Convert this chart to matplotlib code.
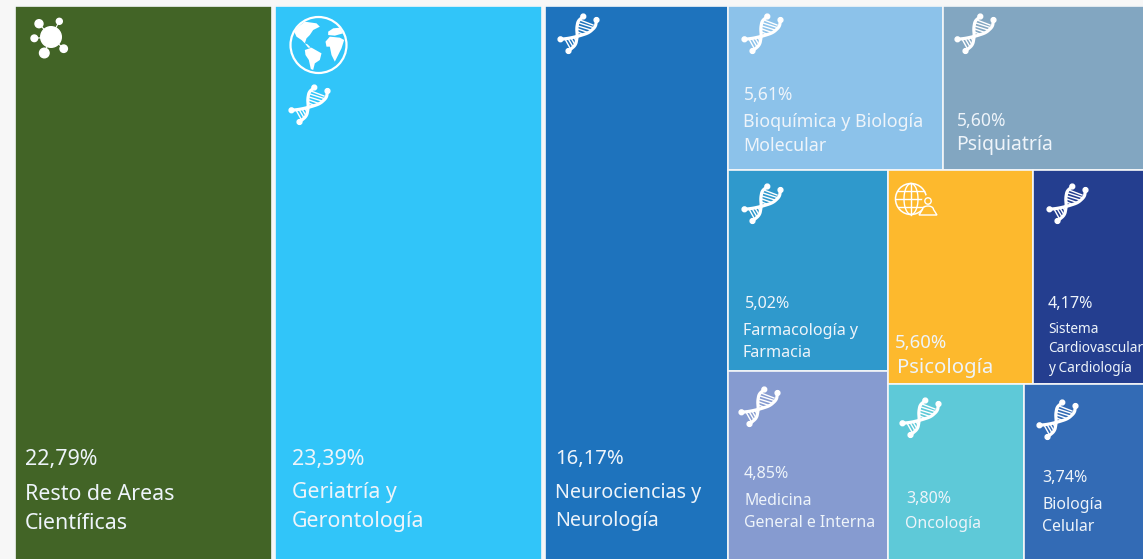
import numpy as np
import matplotlib
matplotlib.use('Agg')
import matplotlib.pyplot as plt
from matplotlib.patches import Rectangle, Circle, Polygon

plt.rcParams['font.family'] = ['Noto Sans', 'DejaVu Sans']

# tile areas (share of the whole treemap)
area_resto = 22.71
area_geriatria = 23.58
area_neuro = 15.98
area_bioquimica = 5.55
area_psiquiatria = 5.60
area_farmacologia = 5.06
area_medicina = 4.78
area_psicologia = 4.88
area_sistema = 4.28
area_oncologia = 3.79
area_biologia = 3.79

# labels printed on the tiles
pct_labels = ['22,79%', '23,39%', '16,17%', '5,61%', '5,60%', '5,02%',
              '4,85%', '5,60%', '4,17%', '3,80%', '3,74%']
names = ['Resto de Areas\nCientíficas', 'Geriatría y\nGerontología',
         'Neurociencias y\nNeurología', 'Bioquímica y Biología\nMolecular',
         'Psiquiatría', 'Farmacología y\nFarmacia', 'Medicina\nGeneral e Interna',
         'Psicología', 'Sistema\nCardiovascular\ny Cardiología', 'Oncología',
         'Biología\nCelular']

colors = ['#426426', '#31c5f9', '#1e73bd', '#8cc2ea', '#82a6c1', '#2f99cc',
          '#869bd0', '#fdb92d', '#243e8f', '#5ec9d8', '#336bb5']

# nested layout: 'h' lays children side by side, 'v' stacks them, ints are tiles
tile_areas = [area_resto, area_geriatria, area_neuro, area_bioquimica, area_psiquiatria,
              area_farmacologia, area_medicina, area_psicologia, area_sistema,
              area_oncologia, area_biologia]
tree = ('h', [0, 1, 2,
              ('v', [('h', [3, 4]),
                     ('h', [('v', [5, 6]),
                            ('v', [('h', [7, 8]), ('h', [9, 10])])])])])


def total(node):
    if isinstance(node, int):
        return tile_areas[node]
    return sum(total(c) for c in node[1])


def layout(node, x, y, w, h, out):
    if isinstance(node, int):
        out[node] = (x, y, w, h)
        return
    t = total(node)
    for c in node[1]:
        share = total(c) / t
        if node[0] == 'h':
            layout(c, x, y, w * share, h, out)
            x += w * share
        else:
            layout(c, x, y, w, h * share, out)
            y += h * share


def smooth(pts):
    pts = np.array(pts, float)
    t = np.linspace(0, 1, len(pts))
    tt = np.linspace(0, 1, 60)
    xs = np.interp(tt, t, pts[:, 0])
    ys = np.interp(tt, t, pts[:, 1])
    k = np.ones(9) / 9
    return (np.convolve(np.pad(xs, 4, mode='edge'), k, mode='valid'),
            np.convolve(np.pad(ys, 4, mode='edge'), k, mode='valid'))


def dna(ax, cx, cy):
    # double helix icon, coordinates relative to its centre
    s1 = [(5.3, -17.5), (0, -13), (-1.3, -5.7), (-0.7, 2), (-2.3, 11), (-9.5, 17)]
    s2 = [(18.5, -14), (17.5, -7.3), (11, -1.3), (1, 2), (-9, 4.3), (-17.5, 5.3)]
    for s in (s1, s2):
        xs, ys = smooth(s)
        ax.plot(cx + xs, cy + ys, color='white', lw=2.3, solid_capstyle='round', zorder=4)
        for p in (s[0], s[-1]):
            ax.add_patch(Circle((cx + p[0], cy + p[1]), 2.4, color='white', zorder=4))
    rungs = [((2, -14), (15, -9)), ((1, -11), (15, -6.5)), ((0, -8), (13, -4)), ((0, -5), (10, -1.5)),
             ((-0.5, -2), (6, 0.5)), ((-13, 5), (-8, 14)), ((-10, 4.5), (-5.5, 12)), ((-7, 4), (-3.5, 10)), ((-4, 3.5), (-2, 7))]
    for a, b in rungs:
        ax.plot([cx + a[0], cx + b[0]], [cy + a[1], cy + b[1]], color='white', lw=1.0, zorder=4)


def molecule(ax, cx, cy):
    ax.add_patch(Circle((cx, cy), 10.3, color='white', zorder=4))
    for dx, dy, r in [(-12, -13.3, 4), (8.3, -15.7, 3), (-16.7, 1.3, 3.3), (-6.7, 16, 4.8), (12.7, 11.7, 3.7)]:
        ax.plot([cx, cx + dx], [cy, cy + dy], color='white', lw=0.8, zorder=4)
        ax.add_patch(Circle((cx + dx, cy + dy), r, color='white', zorder=4))


def globe(ax, cx, cy, r):
    ax.add_patch(Circle((cx, cy), r, fc='none', ec='white', lw=1.6, zorder=4))
    # continent outlines, in units of a 198 px sketch centred on (101, 100)
    conts = [[(40, 45), (60, 30), (95, 35), (105, 45), (85, 55), (75, 70), (65, 80), (60, 95), (50, 85), (35, 75), (28, 60)],
             [(60, 95), (68, 98), (78, 108), (70, 108)],
             [(60, 115), (80, 108), (110, 125), (105, 145), (90, 155), (85, 175), (78, 172), (72, 145), (62, 130)],
             [(122, 90), (135, 75), (165, 78), (178, 85), (170, 110), (160, 130), (150, 150), (140, 130), (135, 105), (125, 105)],
             [(130, 60), (145, 50), (165, 48), (175, 65), (150, 72), (130, 70)]]
    for c in conts:
        ax.add_patch(Polygon([(cx + (a - 101) / 3, cy + (b - 100) / 3) for a, b in c],
                             closed=True, fc='white', ec='none', zorder=4))


def globe_person(ax, cx, cy):
    r = 15.5
    bg = colors[7]
    t = np.linspace(-np.pi / 2, np.pi / 2, 30)
    ax.add_patch(Circle((cx, cy), r, fc='none', ec='white', lw=1.1, zorder=4))
    ax.plot(cx + 7 * np.cos(t), cy + r * np.sin(t), color='white', lw=1, zorder=4)
    ax.plot(cx - 7 * np.cos(t), cy + r * np.sin(t), color='white', lw=1, zorder=4)
    ax.plot([cx, cx], [cy - r, cy + r], color='white', lw=1, zorder=4)
    ax.plot([cx - r, cx + r], [cy, cy], color='white', lw=1, zorder=4)
    for dy in (-8, 8):
        hw = np.sqrt(r * r - dy * dy)
        ax.plot([cx - hw, cx + hw], [cy + dy, cy + dy], color='white', lw=1, zorder=4)
    # person in front of the globe
    ax.add_patch(Circle((cx + 17, cy + 2), 6, fc=bg, ec='none', zorder=5))
    ax.add_patch(Circle((cx + 17, cy + 2), 3.2, fc='none', ec='white', lw=1, zorder=6))
    a = np.linspace(np.pi, 2 * np.pi, 16)
    body = [(cx + 8, cy + 16)] + list(zip(cx + 17 + 5.5 * np.cos(a), cy + 10.5 + 3.5 * np.sin(a))) + [(cx + 26, cy + 16)]
    ax.add_patch(Polygon(body, closed=True, fc=bg, ec='white', lw=1, zorder=6))


fig = plt.figure(figsize=(11.43, 5.59), dpi=100, facecolor='#f7f7f7')
ax = fig.add_axes([0, 0, 1, 1])
ax.set_xlim(0, 1143)
ax.set_ylim(559, 0)
ax.axis('off')

rects = {}
layout(tree, 14.9, 6, 1145.6, 555, rects)

# extra gap to the right of the two widest tiles
trim = {0: 3, 1: 3}
for i in range(len(tile_areas)):
    x, y, w, h = rects[i]
    ax.add_patch(Rectangle((x, y), w - trim.get(i, 0), h, fc=colors[i], ec='#f4f6f8', lw=1.2, zorder=2))

# pct text x, pct baseline, pct size, name x, name baseline, line step, name size
text_style = [
    (25, 465, 15.4, 25, 500, 29, 15.4),
    (292, 465, 15.4, 292, 498, 29, 15.4),
    (555, 464, 14.6, 555, 498, 28, 14.2),
    (744, 100, 12.6, 743, 127, 24, 12.8),
    (957, 126, 12.6, 956, 150, 24, 14),
    (745, 308, 11.6, 743, 335, 22, 11.6),
    (744, 478, 11.6, 744, 505, 22, 11.4),
    (895, 348, 13.4, 897, 373, 24, 14.6),
    (1048, 308, 11.6, 1048, 333, 19.5, 9.8),
    (906, 503, 11.6, 905, 528, 22, 11.4),
    (1042, 482, 11.6, 1042, 509, 22, 11.4),
]
text_col = '#eef4fa'
for i, st in enumerate(text_style):
    ax.text(st[0], st[1], pct_labels[i], color=text_col, fontsize=st[2], va='baseline', ha='left', zorder=5, clip_on=True)
    for j, line in enumerate(names[i].split('\n')):
        ax.text(st[3], st[4] + j * st[5], line, color=text_col, fontsize=st[6], va='baseline', ha='left', zorder=5, clip_on=True)

for c in [(309, 105), (578, 34), (762, 34), (975, 34), (762, 204), (1067, 204), (759, 407), (920, 418), (1057, 420)]:
    dna(ax, c[0], c[1])
molecule(ax, 51, 37)
globe(ax, 318.5, 45, 28)
globe_person(ax, 911, 199)

fig.savefig('out.png', dpi=100, facecolor=fig.get_facecolor())
